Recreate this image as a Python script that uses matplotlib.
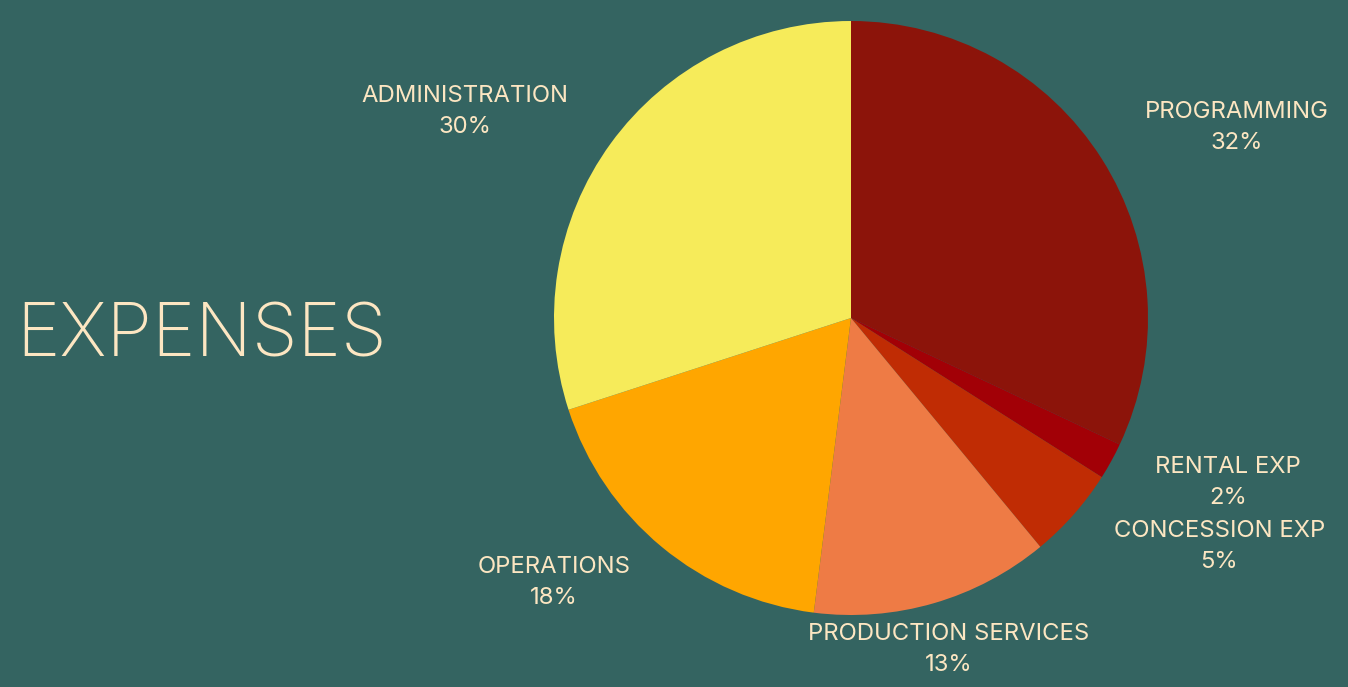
import numpy as np
import matplotlib.pyplot as plt

# data
categories = ["PROGRAMMING", "RENTAL EXP", "CONCESSION EXP",
              "PRODUCTION SERVICES", "OPERATIONS", "ADMINISTRATION"]
shares = [32, 2, 5, 13, 18, 30]
title = "EXPENSES"

# styles
colors = ["#8C140A", "#A20006", "#C02C04", "#EE7B45", "#FFA600", "#F6EB5A"]
bg = "#346461"
txt = "#FCE6C2"
# label positions (radius units, relative to pie centre)
label_pos = [(1.30, 0.64), (1.27, -0.555), (1.24, -0.77),
             (0.33, -1.115), (-1.00, -0.89), (-1.30, 0.695)]

plt.rcParams['font.family'] = ['Inter', 'DejaVu Sans']

W, H = 1348, 687
fig = plt.figure(figsize=(W/100, H/100), dpi=100, facecolor=bg)

cx, cy, r = 851, 318, 297
ax = fig.add_axes([(cx-r)/W, (H-cy-r)/H, 2*r/W, 2*r/H])
ax.set_facecolor(bg)
ax.pie(shares, colors=colors, startangle=90, counterclock=False,
       radius=1, wedgeprops=dict(linewidth=0))
ax.set_xlim(-1, 1)
ax.set_ylim(-1, 1)
ax.set_aspect('equal')
ax.axis('off')

for name, val, (lx, ly) in zip(categories, shares, label_pos):
    ax.text(lx, ly, name + "\n" + str(val) + "%", ha='center', va='center',
            color=txt, fontsize=17.2, linespacing=1.52, clip_on=False)

fig.text(16/W, 1-337/H, title, ha='left', va='center', color=txt,
         fontsize=53, fontweight='light')

fig.savefig("out.png", dpi=100, facecolor=bg)
